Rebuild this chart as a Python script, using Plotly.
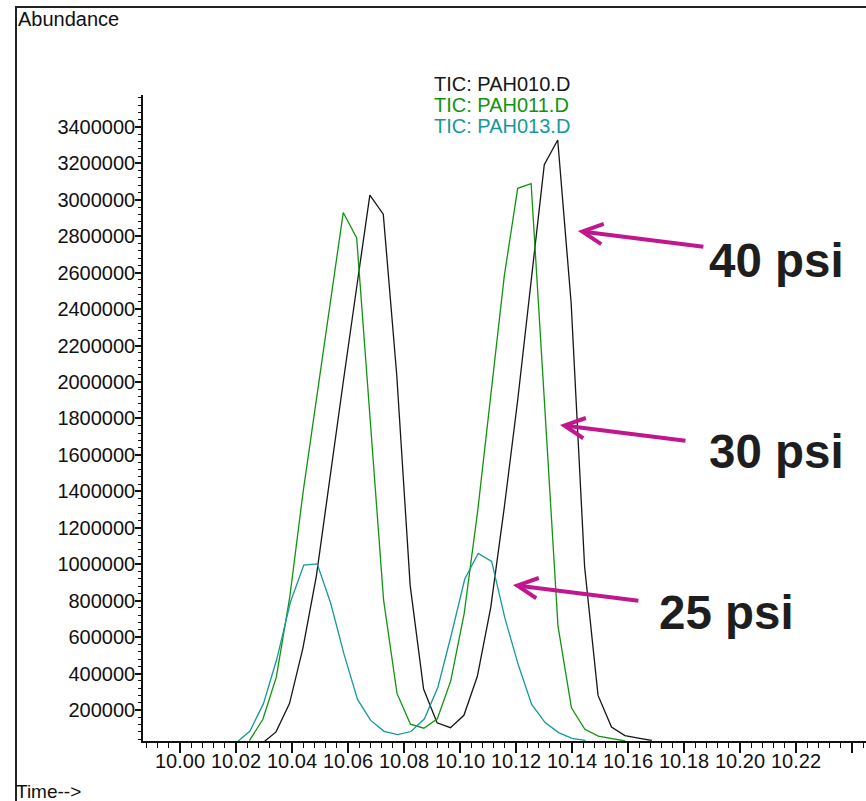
import plotly.graph_objects as go

# Total ion chromatograms (retention time in minutes, abundance in counts)
pah010_time = [10.0295, 10.0343, 10.0391, 10.0439, 10.0487, 10.0535, 10.0583, 10.0631,
               10.0678, 10.0726, 10.0774, 10.0822, 10.0870, 10.0918, 10.0966, 10.1014,
               10.1062, 10.1110, 10.1158, 10.1206, 10.1254, 10.1301, 10.1349, 10.1397,
               10.1445, 10.1493, 10.1541, 10.1589, 10.1637, 10.1685]
pah010_abund = [19000, 80000, 235000, 540000, 935000, 1480000, 2000000, 2520000,
                3026000, 2921000, 2040000, 884000, 315000, 130000, 103000, 171000,
                385000, 765000, 1310000, 1900000, 2540000, 3193000, 3328000, 2432000,
                986000, 280000, 107000, 60000, 46000, 33000]

pah011_time = [10.0248, 10.0296, 10.0344, 10.0392, 10.0440, 10.0488, 10.0536, 10.0583,
               10.0631, 10.0679, 10.0727, 10.0775, 10.0823, 10.0871, 10.0919, 10.0967,
               10.1015, 10.1063, 10.1110, 10.1158, 10.1206, 10.1254, 10.1302, 10.1350,
               10.1398, 10.1446, 10.1494, 10.1542, 10.1590]
pah011_abund = [32000, 149000, 380000, 820000, 1400000, 1910000, 2420000, 2930000,
                2790000, 1790000, 805000, 291000, 122000, 100000, 152000, 360000,
                730000, 1290000, 1930000, 2580000, 3063000, 3089000, 1880000, 660000,
                212000, 94000, 57000, 45000, 30000]

pah013_time = [10.0202, 10.0250, 10.0298, 10.0346, 10.0394, 10.0442, 10.0490, 10.0538,
               10.0586, 10.0634, 10.0681, 10.0729, 10.0777, 10.0825, 10.0873, 10.0921,
               10.0969, 10.1017, 10.1065, 10.1113, 10.1161, 10.1209, 10.1256, 10.1304,
               10.1352, 10.1400, 10.1448]
pah013_abund = [22000, 85000, 235000, 481000, 790000, 995000, 1002000, 787000,
                505000, 258000, 143000, 83000, 65000, 82000, 152000, 325000,
                613000, 919000, 1059000, 1016000, 700000, 444000, 231000, 131000,
                76000, 45000, 33000]

series_names = ["TIC: PAH010.D", "TIC: PAH011.D", "TIC: PAH013.D"]
series_colors = ["#161616", "#119311", "#17989a"]

x_tick_values = [10.00, 10.02, 10.04, 10.06, 10.08, 10.10, 10.12, 10.14, 10.16,
                 10.18, 10.20, 10.22, 10.24]
x_tick_labels = ["10.00", "10.02", "10.04", "10.06", "10.08", "10.10", "10.12",
                 "10.14", "10.16", "10.18", "10.20", "10.22", ""]
y_tick_values = [200000, 400000, 600000, 800000, 1000000, 1200000, 1400000, 1600000,
                 1800000, 2000000, 2200000, 2400000, 2600000, 2800000, 3000000,
                 3200000, 3400000]
y_tick_labels = [str(v) for v in y_tick_values]

pressure_labels = ["40 psi", "30 psi", "25 psi"]
# arrow tips (time, abundance) for each pressure label
pressure_targets = [(10.1421, 2829000), (10.1357, 1764000), (10.1189, 886000)]

FONT = "Liberation Sans, Arial, sans-serif"
W, H = 866, 801
ML, MR, MT, MB = 143, 0, 95, 60
PW, PH = W - ML - MR, H - MT - MB


def xp(px):
    return (px - ML) / PW


def yp(py):
    return (H - MB - py) / PH


fig = go.Figure()
for t, a, c in zip([pah010_time, pah011_time, pah013_time],
                   [pah010_abund, pah011_abund, pah013_abund], series_colors):
    fig.add_trace(go.Scatter(x=t, y=a, mode="lines", line=dict(color=c, width=1.3),
                             showlegend=False, hoverinfo="skip"))

annotations = []
# chromatogram labels
for i, (name, c) in enumerate(zip(series_names, series_colors)):
    annotations.append(dict(x=xp(432), y=yp(84 + 21 * i), xref="paper", yref="paper",
                            text=name, showarrow=False, xanchor="left", yanchor="middle",
                            font=dict(family=FONT, size=20, color=c)))

annotations.append(dict(x=xp(16), y=yp(19), xref="paper", yref="paper", text="Abundance",
                        showarrow=False, xanchor="left", yanchor="middle",
                        font=dict(family=FONT, size=20, color="#111")))
annotations.append(dict(x=xp(14), y=yp(791), xref="paper", yref="paper", text="Time-->",
                        showarrow=False, xanchor="left", yanchor="middle",
                        font=dict(family=FONT, size=19, color="#111")))

# pressure call-outs
label_pos = [(707, 260), (707, 452), (657, 612)]
for lab, (tx, ty), (px, py) in zip(pressure_labels, pressure_targets, label_pos):
    annotations.append(dict(x=tx, y=ty, xref="x", yref="y", text="", showarrow=True,
                            ax=127, ay=16, arrowhead=5, arrowsize=1, arrowwidth=4,
                            arrowcolor="#c2168e", standoff=0))
    annotations.append(dict(x=xp(px), y=yp(py), xref="paper", yref="paper",
                            text=f"<b>{lab}</b>",
                            showarrow=False, xanchor="left", yanchor="middle",
                            font=dict(family=FONT, size=47.5, color="#1e1e1e")))

# outer frame (top and left edges)
frame = dict(type="path", xref="paper", yref="paper",
             path=f"M {xp(16)},{yp(801)} L {xp(16)},{yp(7)} L {xp(866)},{yp(7)}",
             line=dict(color="#222", width=2))

fig.update_layout(
    width=W, height=H,
    margin=dict(l=ML, r=MR, t=MT, b=MB, pad=0),
    paper_bgcolor="white", plot_bgcolor="white",
    annotations=annotations, shapes=[frame],
    xaxis=dict(range=[10 - 37 / 2800, 10 + 686 / 2800], showgrid=False, zeroline=False,
               showline=True, linecolor="#111", linewidth=1.5,
               tickmode="array", tickvals=x_tick_values, ticktext=x_tick_labels,
               ticks="outside", ticklen=10, tickwidth=1.5, tickcolor="#111",
               ticklabelstandoff=-9,
               tickfont=dict(family=FONT, size=20, color="#111"),
               minor=dict(tickmode="linear", tick0=10.0, dtick=0.004, ticks="outside",
                          ticklen=5, tickwidth=1.2, tickcolor="#111", showgrid=False)),
    yaxis=dict(range=[30000, 3575000], showgrid=False, zeroline=False,
               showline=True, linecolor="#111", linewidth=1.5,
               tickmode="array", tickvals=y_tick_values, ticktext=y_tick_labels,
               ticks="outside", ticklen=6, tickwidth=1.5, tickcolor="#111",
               ticklabelstandoff=-4,
               tickfont=dict(family=FONT, size=20, color="#111"),
               minor=dict(tickmode="linear", tick0=0, dtick=40000, ticks="outside",
                          ticklen=3, tickwidth=1, tickcolor="#111", showgrid=False)),
)

fig.write_html("out.html")
